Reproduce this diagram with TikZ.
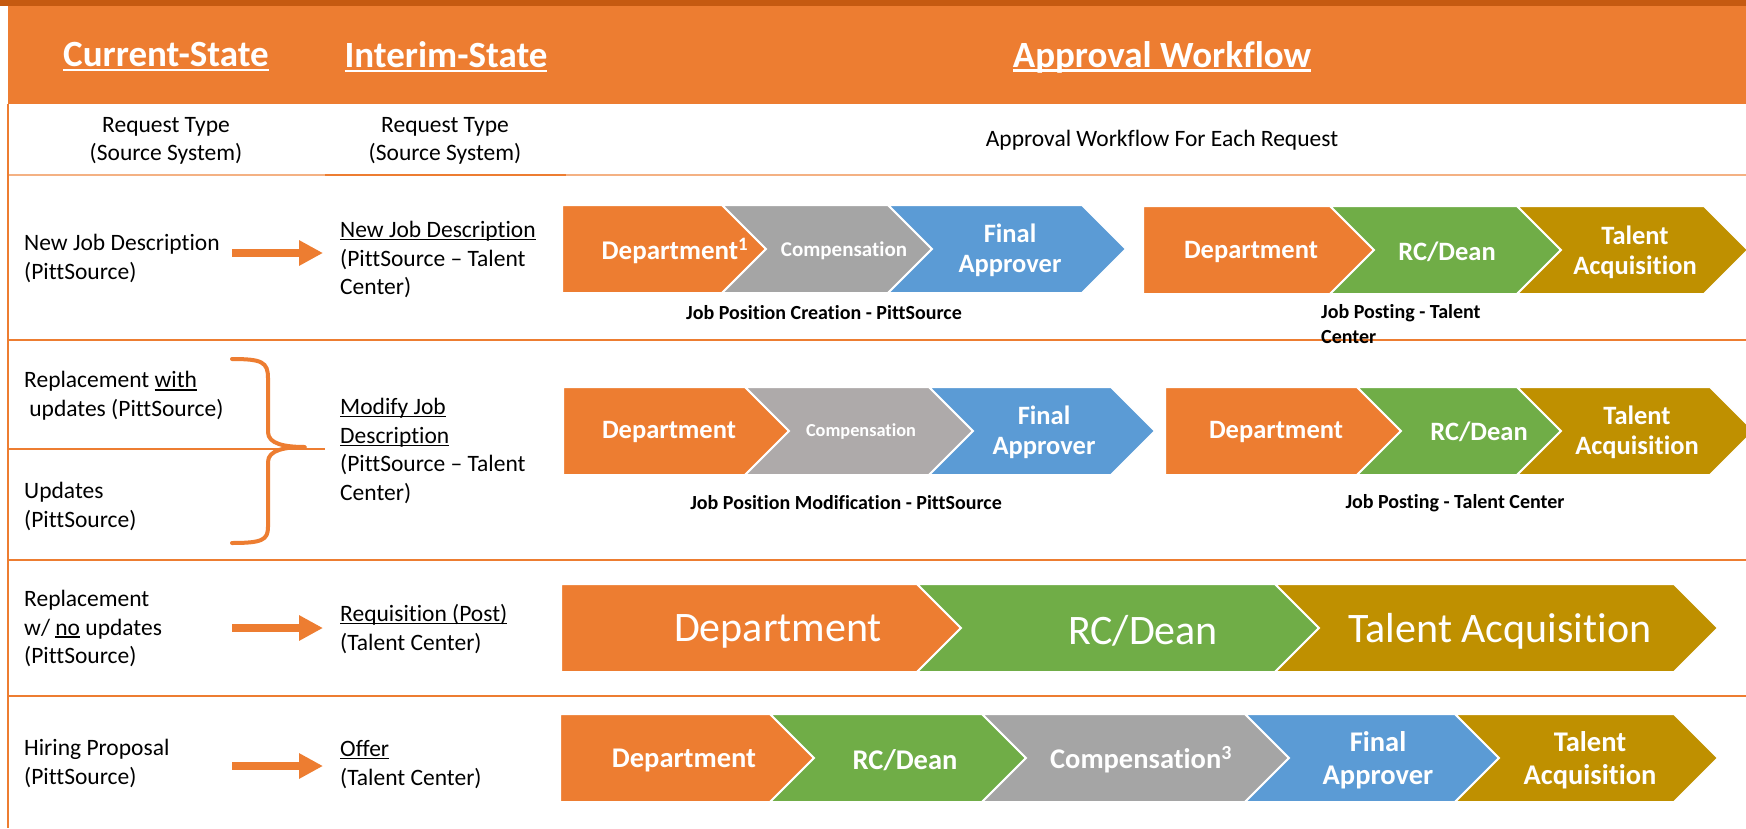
\documentclass[tikz,border=0pt]{standalone}
\usepackage{fontspec}
\setmainfont{Carlito}[Ligatures=NoCommon]
\usepackage{tikz}
\usetikzlibrary{arrows.meta}
\usepackage{xcolor}

\definecolor{hdrorange}{HTML}{ED7D31}
\definecolor{darkband}{HTML}{C55A11}
\definecolor{lightline}{HTML}{F4B183}
\definecolor{chevgray}{HTML}{A5A5A5}
\definecolor{chevgraytwo}{HTML}{AEAAAA}
\definecolor{chevblue}{HTML}{5B9BD5}
\definecolor{chevgreen}{HTML}{70AD47}
\definecolor{chevgold}{HTML}{BF9000}

\newsavebox{\undlbox}
\newcommand{\undl}[1]{\sbox{\undlbox}{#1}\rlap{\rule[-0.12em]{\wd\undlbox}{0.06em}}\usebox{\undlbox}}

\begin{document}
\begin{tikzpicture}[x=1pt, y=-1pt]
    \tikzstyle{chev} = [draw=white, line width=2pt]
    \tikzstyle{rowline} = [draw=hdrorange, line width=1.5pt]
    \tikzstyle{headtext} = [text=white, font=\fontsize{37}{44}\selectfont\bfseries, inner sep=0pt]
    \tikzstyle{subtext} = [font=\fontsize{23.5}{28.5}\selectfont, align=center, inner sep=0pt]
    \tikzstyle{reqtext} = [font=\fontsize{23.5}{28.7}\selectfont, align=left, anchor=west, inner sep=0pt]
    \tikzstyle{steptext} = [text=white, font=\fontsize{26.5}{30}\selectfont\bfseries, align=center, inner sep=0pt, yshift=-2pt]
    \tikzstyle{bigstep} = [steptext, font=\fontsize{42}{50}\selectfont\mdseries, yshift=-1pt]
    \tikzstyle{midstep} = [steptext, font=\fontsize{28.5}{33}\selectfont\bfseries]
    \tikzstyle{flowlabel} = [font=\fontsize{20}{24.4}\selectfont\bfseries, inner sep=0pt]
    \tikzstyle{bigarrow} = [draw=hdrorange, line width=8pt, -{Triangle[length=24pt,width=24pt]}]
    \tikzstyle{bracket} = [draw=hdrorange, line width=4pt, line cap=round, line join=round]

    \useasboundingbox (0,0) rectangle (1746,828);
    \fill[white] (0,0) rectangle (1746,828);

    % header
    \fill[darkband] (0,0) rectangle (1746,6);
    \fill[hdrorange] (8,6) rectangle (1746,104);
    \node[headtext] (curhead) at (166,57) {\undl{Current-State}};
    \node[headtext] (inthead) at (446,57) {\undl{Interim-State}};
    \node[headtext] (apphead) at (1162,57) {\undl{Approval Workflow}};

    \node[subtext] (cursub) at (166,141) {Request Type\\(Source System)};
    \node[subtext] (intsub) at (445,141) {Request Type\\(Source System)};
    \node[subtext] (appsub) at (1162,140) {Approval Workflow For Each Request};

    % table lines
    \draw[rowline, draw=lightline] (8,175) -- (1746,175);
    \draw[rowline, line width=2.5pt] (325,175) -- (566,175);
    \draw[rowline] (8,104) -- (8,828);
    \draw[rowline] (8,340) -- (1746,340);
    \draw[rowline] (8,449) -- (325,449);
    \draw[rowline, line width=2pt] (8,560) -- (1746,560);
    \draw[rowline] (8,696) -- (1746,696);

    % request types
    \node[reqtext] (r1cur) at (24,258.5) {New Job Description\\(PittSource)};
    \node[reqtext] (r1int) at (340,259.5) {\undl{New Job Description}\\(PittSource – Talent\\Center)};
    \node[reqtext] (r2cura) at (24,396) {Replacement \undl{with}\\\hspace{0.22em}updates (PittSource)};
    \node[reqtext] (r2curb) at (24,506.5) {Updates\\(PittSource)};
    \node[reqtext] (r2int) at (340,451) {\undl{Modify Job}\\\undl{Description}\\(PittSource – Talent\\Center)};
    \node[reqtext] (r3cur) at (24,628.5) {Replacement\\w/ \undl{no} updates\\(PittSource)};
    \node[reqtext] (r3int) at (340,629) {\undl{Requisition (Post)}\\(Talent Center)};
    \node[reqtext] (r4cur) at (24,763.5) {Hiring Proposal\\(PittSource)};
    \node[reqtext] (r4int) at (340,764.5) {\undl{Offer}\\(Talent Center)};

    \coordinate (a1s) at (232,253);
    \coordinate (a1e) at (323,253);
    \coordinate (a3s) at (232,628);
    \coordinate (a3e) at (323,628);
    \coordinate (a4s) at (232,766);
    \coordinate (a4e) at (323,766);
    \draw[bigarrow] (a1s) -- (a1e);
    \draw[bigarrow] (a3s) -- (a3e);
    \draw[bigarrow] (a4s) -- (a4e);

    \draw[bracket] (232,359) .. controls (262,359) and (268,362) .. (268,378) -- (268,432)
        .. controls (268,444) and (285,447) .. (305,447)
        .. controls (285,447) and (268,450) .. (268,462) -- (268,527)
        .. controls (268,540) and (262,543) .. (232,543);

    % row 1
    \filldraw[chev, fill=hdrorange] (562,205) -- (722,205) -- ++(44,44) -- ++(-44,44) -- (562,293) -- cycle;
    \filldraw[chev, fill=chevgray] (722,205) -- (888,205) -- ++(44,44) -- ++(-44,44) -- (722,293) -- ++(44,-44) -- cycle;
    \filldraw[chev, fill=chevblue] (888,205) -- (1082,205) -- ++(44,44) -- ++(-44,44) -- (888,293) -- ++(44,-44) -- cycle;
    \filldraw[chev, fill=hdrorange] (1143,206) -- (1330,206) -- ++(44,44) -- ++(-44,44) -- (1143,294) -- cycle;
    \filldraw[chev, fill=chevgreen] (1330,206) -- (1517,206) -- ++(44,44) -- ++(-44,44) -- (1330,294) -- ++(44,-44) -- cycle;
    \filldraw[chev, fill=chevgold] (1517,206) -- (1704,206) -- ++(44,44) -- ++(-44,44) -- (1517,294) -- ++(44,-44) -- cycle;
    \node[steptext, font=\fontsize{27}{30}\selectfont\bfseries] (r1dept) at (675,249) {Department\textsuperscript{1}};
    \node[steptext, font=\fontsize{21}{25}\selectfont\bfseries] (r1comp) at (844,249) {Compensation};
    \node[steptext] (r1final) at (1010,248) {Final\\Approver};
    \node[flowlabel] (r1flow) at (824,313) {Job Position Creation - PittSource};
    \node[steptext] (r1dept2) at (1251,250) {Department};
    \node[steptext] (r1dean) at (1447,250) {RC/Dean};
    \node[steptext] (r1talent) at (1635,250) {Talent\\Acquisition};
    \node[flowlabel, align=left, anchor=west] (r1post) at (1321,324) {Job Posting - Talent\\Center};

    % row 2
    \filldraw[chev, fill=hdrorange] (563,387) -- (745,387) -- ++(44,44) -- ++(-44,44) -- (563,475) -- cycle;
    \filldraw[chev, fill=chevgraytwo] (745,387) -- (929,387) -- ++(44,44) -- ++(-44,44) -- (745,475) -- ++(44,-44) -- cycle;
    \filldraw[chev, fill=chevblue] (929,387) -- (1111,387) -- ++(44,44) -- ++(-44,44) -- (929,475) -- ++(44,-44) -- cycle;
    \filldraw[chev, fill=hdrorange] (1165,387) -- (1357,387) -- ++(44,44) -- ++(-44,44) -- (1165,475) -- cycle;
    \filldraw[chev, fill=chevgreen] (1357,387) -- (1517,387) -- ++(44,44) -- ++(-44,44) -- (1357,475) -- ++(44,-44) -- cycle;
    \filldraw[chev, fill=chevgold] (1517,387) -- (1710,387) -- ++(44,44) -- ++(-44,44) -- (1517,475) -- ++(44,-44) -- cycle;
    \node[steptext] (r2dept) at (669,430) {Department};
    \node[steptext, font=\fontsize{18.3}{22}\selectfont\bfseries] (r2comp) at (861,430) {Compensation};
    \node[steptext] (r2final) at (1044,430) {Final\\Approver};
    \node[flowlabel] (r2flow) at (846,503) {Job Position Modification - PittSource};
    \node[steptext] (r2dept2) at (1276,430) {Department};
    \node[steptext] (r2dean) at (1479,430) {RC/Dean};
    \node[steptext] (r2talent) at (1637,430) {Talent\\Acquisition};
    \node[flowlabel] (r2post) at (1455,503) {Job Posting - Talent Center};

    % row 3
    \filldraw[chev, fill=hdrorange] (561,584) -- (917,584) -- ++(44,44) -- ++(-44,44) -- (561,672) -- cycle;
    \filldraw[chev, fill=chevgreen] (917,584) -- (1275,584) -- ++(44,44) -- ++(-44,44) -- (917,672) -- ++(44,-44) -- cycle;
    \filldraw[chev, fill=chevgold] (1275,584) -- (1674,584) -- ++(44,44) -- ++(-44,44) -- (1275,672) -- ++(44,-44) -- cycle;
    \node[bigstep] (r3dept) at (778,628) {Department};
    \node[bigstep] (r3dean) at (1143,628) {RC/Dean};
    \node[bigstep] (r3talent) at (1500,628) {Talent Acquisition};

    % row 4
    \filldraw[chev, fill=hdrorange] (560,714) -- (770,714) -- ++(44,44) -- ++(-44,44) -- (560,802) -- cycle;
    \filldraw[chev, fill=chevgreen] (770,714) -- (982,714) -- ++(44,44) -- ++(-44,44) -- (770,802) -- ++(44,-44) -- cycle;
    \filldraw[chev, fill=chevgray] (982,714) -- (1245,714) -- ++(44,44) -- ++(-44,44) -- (982,802) -- ++(44,-44) -- cycle;
    \filldraw[chev, fill=chevblue] (1245,714) -- (1455,714) -- ++(44,44) -- ++(-44,44) -- (1245,802) -- ++(44,-44) -- cycle;
    \filldraw[chev, fill=chevgold] (1455,714) -- (1674,714) -- ++(44,44) -- ++(-44,44) -- (1455,802) -- ++(44,-44) -- cycle;
    \node[midstep] (r4dept) at (684,758) {Department};
    \node[midstep] (r4dean) at (905,758) {RC/Dean};
    \node[midstep] (r4comp) at (1141,758) {Compensation\textsuperscript{3}};
    \node[midstep] (r4final) at (1378,758) {Final\\Approver};
    \node[midstep] (r4talent) at (1590,758) {Talent\\Acquisition};
\end{tikzpicture}
\end{document}
